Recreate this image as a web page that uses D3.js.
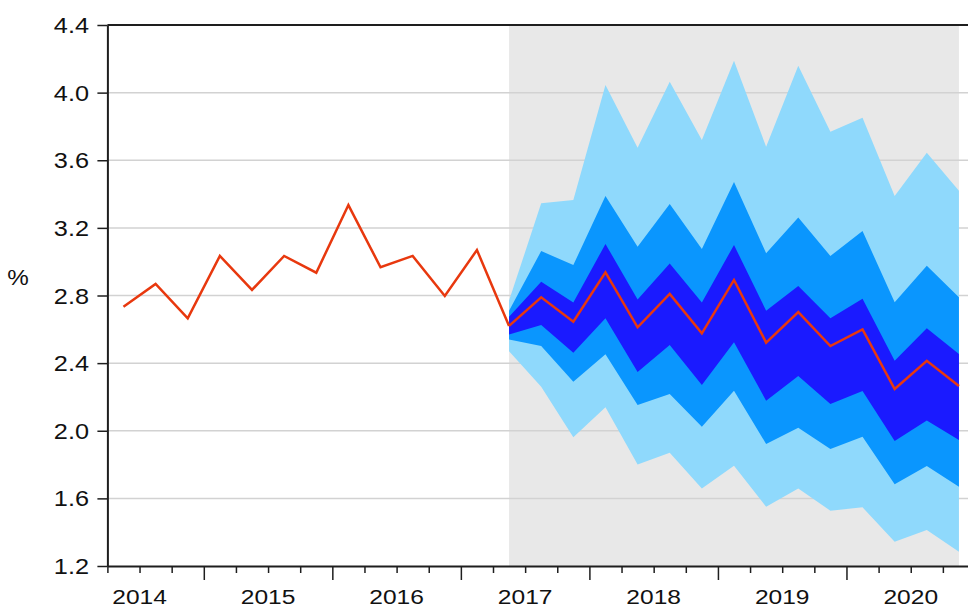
<!DOCTYPE html>
<html><head><meta charset="utf-8">
<script src="https://cdn.jsdelivr.net/npm/d3@7"></script>
<style>body{margin:0;background:#fff;overflow:hidden} svg{display:block}</style>
</head><body>
<script>
// ---- data ----
const histQuarters = ["2014Q2","2014Q3","2014Q4","2015Q1","2015Q2","2015Q3","2015Q4","2016Q1","2016Q2","2016Q3","2016Q4","2017Q1","2017Q2"];
const histValues = [2.734, 2.868, 2.665, 3.034, 2.833, 3.034, 2.935, 3.335, 2.967, 3.034, 2.797, 3.069, 2.62];

const fcQuarters = ["2017Q2","2017Q3","2017Q4","2018Q1","2018Q2","2018Q3","2018Q4","2019Q1","2019Q2","2019Q3","2019Q4","2020Q1","2020Q2","2020Q3","2020Q4"];
const fcCentral = [2.62, 2.789, 2.645, 2.937, 2.612, 2.809, 2.576, 2.892, 2.521, 2.702, 2.501, 2.600, 2.247, 2.414, 2.265];
const outerUpper = [2.77, 3.345, 3.365, 4.045, 3.674, 4.065, 3.72, 4.189, 3.68, 4.159, 3.769, 3.852, 3.389, 3.645, 3.42];
const outerLower = [2.47, 2.261, 1.961, 2.139, 1.801, 1.87, 1.659, 1.793, 1.551, 1.659, 1.527, 1.547, 1.344, 1.413, 1.285];
const midUpper   = [2.71, 3.063, 2.98, 3.389, 3.089, 3.341, 3.075, 3.471, 3.05, 3.262, 3.034, 3.181, 2.76, 2.976, 2.789];
const midLower   = [2.54, 2.501, 2.29, 2.452, 2.152, 2.217, 2.024, 2.237, 1.922, 2.018, 1.892, 1.965, 1.683, 1.791, 1.669];
const innerUpper = [2.675, 2.882, 2.758, 3.105, 2.777, 2.99, 2.758, 3.099, 2.71, 2.856, 2.665, 2.781, 2.414, 2.606, 2.454];
const innerLower = [2.57, 2.625, 2.462, 2.665, 2.347, 2.507, 2.271, 2.523, 2.178, 2.324, 2.158, 2.235, 1.939, 2.06, 1.945];

const yTicks = [1.2, 1.6, 2.0, 2.4, 2.8, 3.2, 3.6, 4.0, 4.4];
const yearLabels = ["2014","2015","2016","2017","2018","2019","2020"];
const yLabel = "%";

// ---- layout ----
const W = 968, H = 608;
const svg = d3.select("body").append("svg").attr("width", W).attr("height", H);
const FONT = "'Liberation Sans', Arial, sans-serif";

// quarter index from 2014Q1 = 0
const qIndex = q => (+q.slice(0,4) - 2014) * 4 + (+q.slice(5) - 1);
const x = d3.scaleLinear().domain([1, 28]).range([107.4, 975]);
const y = d3.scaleLinear().domain([1.2, 4.4]).range([566, 25]);
const px = q => x(qIndex(q) + 0.5);

// forecast shading
const g0 = fcQuarters[0], g1 = fcQuarters[fcQuarters.length - 1];
svg.append("rect")
  .attr("x", px(g0)).attr("y", y(4.4))
  .attr("width", px(g1) - px(g0)).attr("height", y(1.2) - y(4.4))
  .attr("fill", "#e8e8e8");

// grid lines
svg.append("g").selectAll("line")
  .data(yTicks.filter(v => v > 1.2 && v < 4.4))
  .join("line")
  .attr("x1", x(1)).attr("x2", x(28))
  .attr("y1", d => y(d)).attr("y2", d => y(d))
  .attr("stroke", "#d2d2d2").attr("stroke-width", 1.5);

// fan bands
const bands = [
  {up: outerUpper, lo: outerLower, color: "#8fd9fc"},
  {up: midUpper, lo: midLower, color: "#0a96fe"},
  {up: innerUpper, lo: innerLower, color: "#1a1aff"}
];
const area = d3.area().x(d => px(d.q)).y0(d => y(d.lo)).y1(d => y(d.up));
bands.forEach(b => {
  const pts = fcQuarters.map((q, i) => ({q, up: b.up[i], lo: b.lo[i]}));
  svg.append("path").datum(pts).attr("d", area).attr("fill", b.color);
});

// lines
const line = d3.line().x(d => px(d.q)).y(d => y(d.v));
const lineColor = "#e8380e";
svg.append("path")
  .datum(histQuarters.map((q, i) => ({q, v: histValues[i]})))
  .attr("d", line).attr("fill", "none").attr("stroke", lineColor)
  .attr("stroke-width", 2.5).attr("stroke-linejoin", "miter");
svg.append("path")
  .datum(fcQuarters.map((q, i) => ({q, v: fcCentral[i]})))
  .attr("d", line).attr("fill", "none").attr("stroke", lineColor)
  .attr("stroke-width", 2.5).attr("stroke-linejoin", "miter");

// axes
const axisColor = "#1e1e1e";
// top border
svg.append("line").attr("x1", x(1)).attr("x2", x(28)).attr("y1", y(4.4)).attr("y2", y(4.4))
  .attr("stroke", axisColor).attr("stroke-width", 2);

// left axis
const yAxis = svg.append("g").attr("transform", `translate(${x(1)},0)`)
  .call(d3.axisLeft(y).tickValues(yTicks).tickSize(10).tickSizeOuter(0).tickFormat(""));
yAxis.select(".domain").attr("stroke", axisColor).attr("stroke-width", 2);
yAxis.selectAll(".tick line").attr("stroke", axisColor).attr("stroke-width", 1.5);

// y labels (stretched horizontally like the source)
svg.append("g").selectAll("text").data(yTicks).join("text")
  .attr("transform", d => `translate(89,${y(d) + 8}) scale(1.15,1)`)
  .attr("text-anchor", "end")
  .attr("font-family", FONT).attr("font-size", 22).attr("fill", "#111")
  .text(d => d.toFixed(1));

// bottom axis: quarterly minor ticks and yearly major ticks
const qTicks = d3.range(1, 29).filter(t => t % 4 !== 0);
const yrTicks = d3.range(4, 29, 4);
const xMinor = svg.append("g").attr("transform", `translate(0,${y(1.2)})`)
  .call(d3.axisBottom(x).tickValues(qTicks).tickSize(7).tickSizeOuter(0).tickFormat(""));
xMinor.select(".domain").attr("stroke", axisColor).attr("stroke-width", 2);
xMinor.selectAll(".tick line").attr("stroke", axisColor).attr("stroke-width", 1.5);
const xMajor = svg.append("g").attr("transform", `translate(0,${y(1.2)})`)
  .call(d3.axisBottom(x).tickValues(yrTicks).tickSize(14).tickSizeOuter(0).tickFormat(""));
xMajor.select(".domain").remove();
xMajor.selectAll(".tick line").attr("stroke", axisColor).attr("stroke-width", 1.5);

// year labels centered on each year
svg.append("g").selectAll("text").data(yearLabels).join("text")
  .attr("transform", (d, i) => `translate(${x(i * 4 + 2)},603.5) scale(1.17,1)`)
  .attr("text-anchor", "middle")
  .attr("font-family", FONT).attr("font-size", 21).attr("fill", "#111")
  .text(d => d);

// y-axis unit label
svg.append("text")
  .attr("transform", "translate(18,285) scale(1.1,1)")
  .attr("text-anchor", "middle")
  .attr("font-family", FONT).attr("font-size", 22).attr("fill", "#111")
  .text(yLabel);
</script>
</body></html>
